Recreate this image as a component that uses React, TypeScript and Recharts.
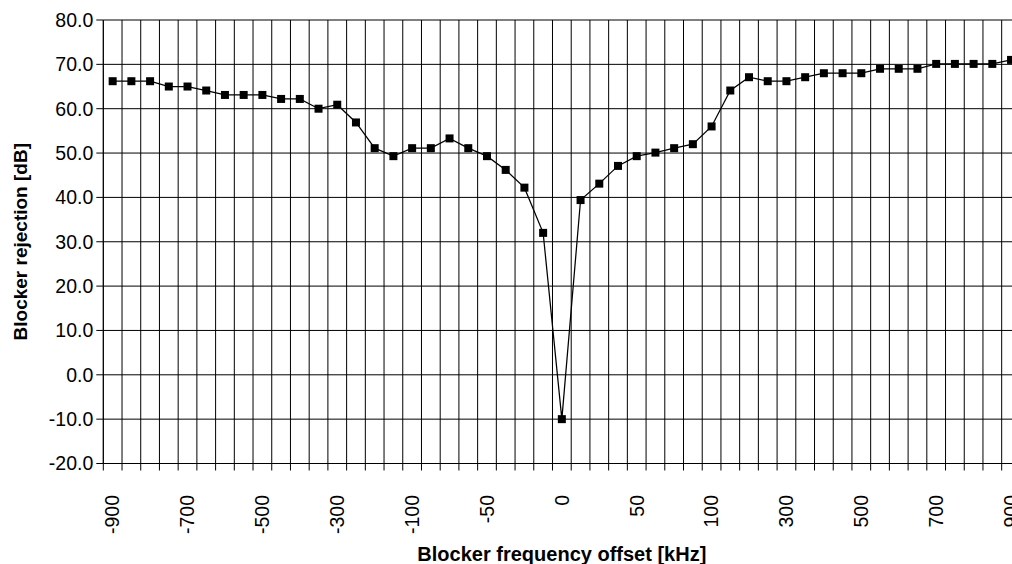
import { LineChart, Line, XAxis, YAxis, CartesianGrid } from 'recharts'

// Blocker frequency offsets in kHz (category axis, 12.5 kHz steps close to the carrier)
const offsets = [
  '-900', '-850', '-800', '-750', '-700', '-650', '-600', '-550', '-500',
  '-450', '-400', '-350', '-300', '-250', '-200', '-150', '-100',
  '-87.5', '-75', '-62.5', '-50', '-37.5', '-25', '-12.5', '0',
  '12.5', '25', '37.5', '50', '62.5', '75', '87.5', '100',
  '150', '200', '250', '300', '350', '400', '450', '500',
  '550', '600', '650', '700', '750', '800', '850', '900',
]

// Blocker rejection in dB
const rejection = [
  66.2, 66.2, 66.2, 65.0, 65.0, 64.1, 63.1, 63.1, 63.1,
  62.2, 62.2, 60.0, 60.9, 56.9, 51.1, 49.3, 51.1,
  51.1, 53.3, 51.1, 49.3, 46.2, 42.2, 32.0, -10.0,
  39.4, 43.1, 47.1, 49.3, 50.1, 51.1, 52.0, 56.0,
  64.1, 67.1, 66.2, 66.2, 67.1, 68.0, 68.0, 68.0,
  69.0, 69.0, 69.0, 70.1, 70.1, 70.1, 70.1, 71.0,
]

const yTicks = [-20, -10, 0, 10, 20, 30, 40, 50, 60, 70, 80]
const labelEvery = 4

const data = offsets.map((offset, i) => ({ i, offset, rejection: rejection[i] }))
// gridlines and tick marks sit between categories, labels on every 4th category
const boundaryTicks = [...offsets.map((_, i) => i - 0.5), offsets.length - 0.5]
const labelTicks = offsets.map((_, i) => i).filter((i) => i % labelEvery === 0)
const xTicks = [...boundaryTicks, ...labelTicks].sort((a, b) => a - b)
const xDomain = [-0.5, offsets.length - 0.5]

const font = '"Liberation Sans", Arial, sans-serif'

function XTick({ x, y, payload }: any) {
  const v = payload.value
  if (!Number.isInteger(v)) {
    // boundary tick mark below the axis
    return <line x1={x} x2={x} y1={y} y2={y + 7} stroke="#000" />
  }
  const ty = y + 31.5
  return (
    <text
      x={x}
      y={ty}
      dy="0.35em"
      transform={`rotate(-90, ${x}, ${ty})`}
      textAnchor="end"
      fontSize={19.5}
      fontFamily={font}
      fill="#000"
    >
      {offsets[v]}
    </text>
  )
}

function SquareDot({ cx, cy, index }: any) {
  return <rect key={index} x={cx - 4} y={cy - 4} width={8} height={8} fill="#000" />
}

export default function App() {
  return (
    <div style={{ position: 'fixed', top: 0, left: 0, width: 1012, height: 564, overflow: 'hidden', background: '#fff' }}>
      <LineChart width={1030} height={564} data={data} margin={{ top: 20, right: 9.6, left: 0, bottom: 0 }}>
        <CartesianGrid stroke="#000" strokeWidth={1} verticalValues={boundaryTicks} horizontalValues={yTicks} />
        <XAxis
          type="number"
          dataKey="i"
          domain={xDomain}
          ticks={xTicks}
          interval={0}
          height={100.5}
          axisLine={{ stroke: '#000' }}
          tickLine={false}
          tickSize={0}
          tickMargin={0}
          tick={<XTick />}
          allowDataOverflow
          label={{
            value: 'Blocker frequency offset [kHz]',
            position: 'insideBottom',
            offset: 3,
            style: { fontWeight: 'bold', fontSize: 20, fontFamily: font, fill: '#000' },
          }}
        />
        <YAxis
          type="number"
          domain={[-20, 80]}
          ticks={yTicks}
          interval={0}
          width={103.3}
          tickSize={7}
          tickMargin={3}
          tickLine={{ stroke: '#000' }}
          axisLine={{ stroke: '#000' }}
          tick={{ fill: '#000', fontSize: 19.5, fontFamily: font }}
          tickFormatter={(v: number) => v.toFixed(1)}
          label={{
            value: 'Blocker rejection [dB]',
            angle: -90,
            position: 'insideLeft',
            offset: 20,
            style: { textAnchor: 'middle', fontWeight: 'bold', fontSize: 19, fontFamily: font, fill: '#000' },
          }}
        />
        <Line
          type="linear"
          dataKey="rejection"
          stroke="#000"
          strokeWidth={1.25}
          dot={SquareDot}
          activeDot={false}
          isAnimationActive={false}
        />
      </LineChart>
    </div>
  )
}
